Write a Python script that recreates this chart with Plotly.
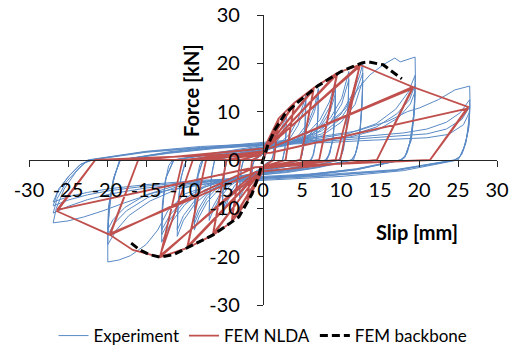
import plotly.graph_objects as go

# ---------------------------------------------------------------------------
# Experimental hysteresis, grouped by imposed slip amplitude.
# Each cycle is a list of (slip [mm], force [kN]) points.
# ---------------------------------------------------------------------------
exp_amp_1_5 = [
    [(0, 0), (0.5, 1.5), (1.0, 3.5), (1.5, 6.0), (1.45, 3.5), (1.3, 1.0), (1.1, 0), (0.5, -1.2), (0, -2.0),
     (-0.6, -3.2), (-1.1, -4.2), (-1.5, -5.0), (-1.45, -3.0), (-1.3, -1.0), (-1.1, 0)],
    [(-1.1, 0), (-0.5, 0.6), (0, 1.2), (0.6, 2.3), (1.1, 3.8), (1.5, 5.3), (1.45, 3.0), (1.3, 0.8), (1.1, 0),
     (0.5, -0.6), (0, -1.3), (-0.6, -2.3), (-1.1, -3.5), (-1.5, -4.5), (-1.45, -2.7), (-1.3, -0.8), (-1.1, 0)],
]
exp_amp_3 = [
    [(-1.1, 0), (0, 1.2), (1, 3), (2, 5.5), (2.6, 7.5), (3, 9), (2.95, 6), (2.8, 2.5), (2.5, 0), (1.5, -0.8),
     (0, -1.6), (-1, -2.8), (-2, -4.8), (-2.6, -6.5), (-3, -8), (-2.95, -5), (-2.8, -2), (-2.5, 0)],
    [(-2.5, 0), (-1, 0.8), (0, 1.4), (1, 2.5), (2, 4.3), (2.6, 6.2), (3, 8.2), (2.95, 5.2), (2.8, 2), (2.5, 0),
     (1.2, -0.9), (0, -1.5), (-1, -2.4), (-2, -4.2), (-2.6, -5.8), (-3, -7.3), (-2.95, -4.5), (-2.75, -1.5), (-2.5, 0)],
]
exp_amp_5_5 = [
    [(-2.5, 0), (-1, 0.9), (0, 1.6), (2, 3.2), (3.5, 5.5), (4.5, 8.5), (5.1, 11.2), (5.5, 13.5), (5.45, 9),
     (5.3, 4), (5, 1), (4.7, 0), (3, -1), (1, -1.8), (0, -2.2), (-2, -3.8), (-3.5, -5.8), (-4.5, -8.3),
     (-5.2, -11.5), (-5.15, -7), (-4.95, -2.5), (-4.6, 0)],
    [(-4.6, 0), (-2.5, 0.8), (0, 1.8), (2, 2.9), (3.5, 4.6), (4.5, 7.2), (5.1, 9.8), (5.5, 12.3), (5.45, 8),
     (5.3, 3.5), (4.9, 0.5), (4.6, 0), (2.5, -1.1), (0, -2.0), (-2, -3.2), (-3.5, -5), (-4.5, -7.5),
     (-5.2, -10.5), (-5.15, -6.3), (-4.9, -2), (-4.6, 0)],
]
exp_amp_7 = [
    [(-4.6, 0), (-2, 1), (0, 1.9), (2.5, 3.2), (4.5, 5), (5.8, 7.8), (6.6, 11), (7.1, 14.8), (7.05, 10),
     (6.85, 4.5), (6.5, 1.2), (6.2, 0), (3.5, -1.2), (0, -2.3), (-2.5, -3.5), (-4.3, -5.4), (-5.6, -8),
     (-6.4, -10.5), (-6.9, -12.5), (-6.85, -8), (-6.6, -3), (-6.2, 0)],
    [(-6.2, 0), (-3, 1), (0, 2.1), (2.5, 3), (4.5, 4.5), (5.8, 7), (6.6, 10), (7.1, 13.5), (7.05, 9),
     (6.8, 4), (6.4, 1), (6.1, 0), (3, -1.3), (0, -2.3), (-2.5, -3.2), (-4.3, -4.9), (-5.6, -7.3),
     (-6.4, -9.6), (-6.9, -11.5), (-6.85, -7.2), (-6.5, -2.5), (-6.2, 0)],
]
exp_amp_9 = [
    [(-6.2, 0), (-3, 1), (0, 2), (3, 3.3), (5.5, 5.2), (7.3, 8.3), (8.5, 12), (9.3, 16.2), (9.25, 11), (9, 5),
     (8.6, 1.5), (8.2, 0), (5, -1.3), (2, -2.2), (0, -2.6), (-3, -3.8), (-5.5, -5.8), (-7.2, -8.8),
     (-8.2, -11.8), (-8.8, -14.5), (-8.75, -9.5), (-8.5, -4), (-8.1, -1), (-7.8, 0)],
    [(-7.8, 0), (-4, 1.1), (0, 2.3), (3, 3.2), (5.5, 4.6), (7.3, 7.3), (8.5, 10.8), (9.3, 14.8), (9.25, 10),
     (9, 4.5), (8.5, 1.2), (8.1, 0), (4.5, -1.5), (0, -2.6), (-3, -3.5), (-5.5, -5.2), (-7.2, -8),
     (-8.2, -10.8), (-8.8, -13.2), (-8.75, -8.5), (-8.4, -3.5), (-7.7, 0)],
    [(-7.7, 0), (-4, 1), (0, 2.2), (3, 3), (5.5, 4.3), (7.3, 6.8), (8.6, 10), (9.3, 13.8), (9.2, 9.2),
     (8.95, 4), (8.4, 1), (8, 0), (4.5, -1.4), (0, -2.5), (-3, -3.3), (-5.5, -4.9), (-7.3, -7.5),
     (-8.3, -10.2), (-8.8, -12.4), (-8.7, -8), (-8.3, -3.2), (-7.7, 0)],
]
exp_amp_11 = [
    [(-7.7, 0), (-4, 1.1), (0, 2.4), (3.5, 3.6), (6.5, 5.6), (8.7, 8.8), (10.1, 12.8), (11, 18.3),
     (10.95, 12.5), (10.7, 6), (10.3, 2), (9.8, 0), (6, -1.5), (0, -2.8), (-3.5, -4), (-6.5, -6), (-8.7, -9),
     (-10.2, -12.5), (-11, -15.8), (-10.9, -10), (-10.6, -4.5), (-10.1, -1), (-9.7, 0)],
    [(-9.7, 0), (-5, 1.2), (0, 2.6), (3.5, 3.4), (6.5, 5.1), (8.7, 8), (10.1, 11.6), (11, 16.6), (10.9, 11),
     (10.6, 5), (10.1, 1.2), (9.7, 0), (5, -1.7), (0, -2.8), (-3.5, -3.8), (-6.5, -5.5), (-8.7, -8.3),
     (-10.2, -11.5), (-11, -14.5), (-10.9, -9), (-10.5, -3.5), (-9.8, 0)],
]
exp_amp_13 = [
    [(-9.8, 0), (-5, 1.2), (0, 2.5), (4, 3.8), (7.5, 6), (10, 9.5), (11.6, 14), (12.4, 17.5), (12.8, 20),
     (12.75, 14), (12.5, 7), (12.1, 2.5), (11.6, 0), (7, -1.6), (3, -2.6), (0, -3), (-4, -4.2), (-7.5, -6.2),
     (-10, -9.2), (-11.8, -13), (-13, -17), (-12.9, -11), (-12.6, -5), (-12.1, -1.2), (-11.6, 0)],
    [(-11.6, 0), (-6, 1.4), (0, 2.8), (4, 3.6), (7.5, 5.4), (10, 8.6), (11.6, 12.6), (12.8, 18), (12.7, 12),
     (12.4, 5.5), (11.9, 1.5), (11.4, 0), (6, -1.8), (0, -3), (-4, -3.9), (-7.5, -5.6), (-10, -8.5),
     (-11.8, -12), (-13, -15.5), (-12.9, -10), (-12.5, -4), (-11.5, 0)],
    [(-11.5, 0), (-6, 1.3), (0, 2.6), (4, 3.4), (7.5, 5), (10, 7.8), (11.8, 11.5), (12.8, 16.5), (12.7, 11),
     (12.35, 4.5), (11.8, 1), (11.3, 0), (6, -1.7), (0, -2.8), (-4, -3.7), (-7.5, -5.3), (-10, -8),
     (-11.9, -11.3), (-13, -14.5), (-12.9, -9), (-12.4, -3.5), (-11.4, 0)],
]
exp_amp_20 = [
    [(-11.4, 0), (-6, 1.5), (0, 3), (4, 4.5), (8, 7), (10.5, 10.5), (12.3, 15), (13.7, 17.6), (15.5, 19.8),
     (16.9, 21.1), (17.6, 20.3), (18.6, 20.8), (19.5, 21.3), (19.55, 16), (19.3, 9), (18.8, 3.5), (18.2, 0.5),
     (17.6, 0), (12, -1.8), (6, -3), (0, -3.6), (-6, -4.8), (-10, -7), (-12.2, -10.5), (-13.5, -14.5),
     (-15, -17.5), (-17, -19.8), (-18.5, -20.7), (-19.9, -21.1), (-19.9, -15), (-19.6, -8), (-19, -3),
     (-18.3, 0)],
    [(-18.3, 0), (-12, 1.6), (-6, 2.6), (0, 3.4), (6, 4.2), (11, 5.5), (14.5, 7.5), (17, 10.5), (18.6, 14),
     (19.5, 17.5), (19.45, 12), (19.1, 5.5), (18.5, 1.5), (17.8, 0), (12, -2), (6, -3.2), (0, -3.8),
     (-6, -4.6), (-11, -6), (-14.5, -8.5), (-17.2, -11.5), (-18.8, -14.5), (-19.9, -17.5), (-19.8, -12),
     (-19.3, -5), (-18.4, 0)],
    [(-18.4, 0), (-12, 1.5), (-6, 2.5), (0, 3.2), (6, 3.9), (11, 5), (14.5, 6.8), (17.2, 9.6), (18.8, 12.5),
     (19.5, 15.5), (19.4, 10.5), (19, 4.5), (18.3, 1), (17.7, 0), (12, -2), (6, -3), (0, -3.6), (-6, -4.3),
     (-11, -5.5), (-14.8, -7.8), (-17.5, -10.5), (-19, -13), (-19.9, -15.5), (-19.8, -10.5), (-19.2, -4),
     (-18.3, 0)],
    [(-18.3, 0), (-12, 1.4), (-6, 2.4), (0, 3), (6, 3.7), (11, 4.7), (14.8, 6.3), (17.4, 8.8), (18.9, 11.6),
     (19.5, 14.2), (19.4, 9.5), (19, 4), (18.2, 0.8), (17.6, 0), (12, -1.9), (6, -2.9), (0, -3.4), (-6, -4.1),
     (-11, -5.2), (-15, -7.2), (-17.7, -9.8), (-19.2, -12.3), (-19.9, -14.3), (-19.8, -9.5), (-19.1, -3.5),
     (-18.3, 0)],
]
exp_amp_26 = [
    [(-18.3, 0), (-12, 1.7), (-6, 2.8), (0, 3.6), (6, 4.5), (12, 6), (16, 8), (18.5, 10), (20.1, 10.8),
     (22.5, 12.5), (24.6, 14.5), (26.5, 15.3), (26.55, 11), (26.3, 6), (25.7, 2), (25, 0), (18, -2.2),
     (10, -3.4), (0, -4.2), (-8, -5), (-14, -6.8), (-18, -9), (-20.5, -10.5), (-23, -11.8), (-25, -12.6),
     (-26.9, -13), (-26.5, -10), (-25.5, -6), (-24, -2.5), (-22.5, 0)],
    [(-22.5, 0), (-15, 1.8), (-8, 2.8), (0, 3.4), (8, 4.2), (14, 5.0), (18, 5.6), (21, 6.4), (23.5, 7.8),
     (25.3, 9.8), (26.5, 12.5), (26.45, 9), (26.1, 4.5), (25.5, 1.2), (24.8, 0), (17, -2.2), (8, -3.3),
     (0, -4), (-8, -4.6), (-15, -5.8), (-19.5, -7), (-22.5, -8.2), (-25, -9.6), (-26.9, -11), (-26.4, -8),
     (-25.2, -4.5), (-23.5, -1.5), (-22.3, 0)],
    [(-22.3, 0), (-15, 1.7), (-8, 2.6), (0, 3.2), (8, 3.9), (14, 4.6), (18, 5.0), (21, 5.4), (23.5, 6.4),
     (25.5, 8.4), (26.5, 11), (26.4, 7.5), (26, 3.5), (25.3, 0.8), (24.6, 0), (17, -2.1), (8, -3.2), (0, -3.8),
     (-8, -4.4), (-15, -5.4), (-19.5, -6.3), (-22.5, -7.2), (-25, -8.3), (-26.9, -9.5), (-26.3, -6.5),
     (-25, -3.5), (-23.5, -1), (-22, 0)],
    [(-22, 0), (-15, 1.6), (-8, 2.5), (0, 3), (8, 3.6), (14, 4.1), (18, 4.4), (21, 4.6), (23.8, 5.3),
     (25.7, 7.3), (26.5, 10), (26.4, 6.8), (25.9, 3), (25.2, 0.6), (24.5, 0), (17, -2), (8, -3), (0, -3.6),
     (-8, -4.2), (-15, -5.1), (-19.5, -5.9), (-22.5, -6.7), (-25, -7.6), (-26.9, -8.7), (-26.2, -6),
     (-24.8, -3.2), (-23.3, -0.8), (-21.8, 0)],
]

# ---------------------------------------------------------------------------
# FEM non-linear dynamic analysis (multi-linear pinched loops), per amplitude
# ---------------------------------------------------------------------------
fem_amp_2 = [
    [(0, 0), (2, 8.6), (1.4, 0), (0.3, -1.0), (-2, -8.5), (-1.4, 0), (-0.3, 1.0)],
    [(-0.3, 1.0), (2, 8.3), (1.4, 0), (0.3, -1.0), (-2, -8.2), (-1.4, 0), (-0.3, 1.0)],
]
fem_amp_4 = [
    [(-0.3, 1.0), (2, 8.6), (4, 11.8), (2.9, 0), (0.3, -1.2), (-2, -8.5), (-4, -12.8), (-2.9, 0), (-0.3, 1.2)],
    [(-0.3, 1.2), (4, 11.5), (2.9, 0), (0.3, -1.2), (-4, -12.5), (-2.9, 0), (-0.3, 1.2)],
]
fem_amp_6_5 = [
    [(-0.3, 1.2), (4, 11.8), (6.5, 14.9), (4.8, 0), (0.2, -1.4), (-4, -12.8), (-6.4, -15.5), (-4.7, 0),
     (-0.2, 1.4)],
    [(-0.2, 1.4), (6.5, 14.6), (4.8, 0), (0.2, -1.4), (-6.4, -15.2), (-4.7, 0), (-0.2, 1.4)],
]
fem_amp_9_5 = [
    [(-0.2, 1.4), (6.5, 14.9), (9.5, 18), (7.2, 0), (0, -1.6), (-6.4, -15.5), (-9.7, -18.2), (-7.3, 0),
     (0, 1.6)],
    [(0, 1.6), (9.5, 17.7), (7.2, 0), (0, -1.6), (-9.7, -17.9), (-7.3, 0), (0, 1.6)],
]
fem_amp_13 = [
    [(0, 1.6), (9.5, 18), (12.4, 19.7), (9.9, 0), (0, -1.8), (-9.7, -18.2), (-13.2, -20.1), (-10.3, 0),
     (0, 1.8)],
    [(0, 1.8), (12.4, 19.4), (9.3, 0), (0, -1.8), (-13.2, -19.8), (-9.0, 0), (0, 1.8)],
]
fem_amp_20 = [
    [(0, 1.8), (12.4, 19.7), (19.2, 15.1), (14.6, 0), (-1, -2.5), (-13.2, -20.1), (-16.7, -18.6),
     (-19.6, -15.5), (-16, 0), (1, 2.5)],
    [(1, 2.5), (19.2, 14.8), (14.6, 0), (-1, -2.5), (-19.6, -15.2), (-16, 0), (1, 2.5)],
]
fem_amp_26 = [
    [(1, 2.5), (19.2, 15.1), (26.3, 11), (21.4, 0), (-1, -1.5), (-19.6, -15.5), (-26.4, -10.6), (-21.5, 0),
     (1, 1.5)],
    [(1, 1.5), (26.3, 10.7), (21.4, 0), (-1, -1.5), (-26.4, -10.3), (-21.5, 0), (0, 0)],
]

# FEM monotonic backbone
backbone_slip = [-16.9, -15.8, -14.5, -13.2, -11.5, -9.7, -6.4, -3.1, -1.4, -0.5, 0,
                 0.6, 1.5, 2.8, 4.5, 7.0, 10.0, 12.7, 13.5, 15.4, 17.1, 17.8]
backbone_force = [-17.2, -18.6, -19.6, -20.1, -19.6, -18.2, -15.5, -11.8, -7.0, -3.0, 0,
                  3.0, 6.2, 9.5, 12.0, 15.3, 18.3, 20.1, 20.3, 19.7, 17.6, 16.8]

x_ticks = [-30, -25, -20, -15, -10, -5, 0, 5, 10, 15, 20, 25, 30]
y_ticks = [-30, -20, -10, 0, 10, 20, 30]

exp_groups = [exp_amp_1_5, exp_amp_3, exp_amp_5_5, exp_amp_7, exp_amp_9, exp_amp_11, exp_amp_13,
              exp_amp_20, exp_amp_26]
fem_groups = [fem_amp_2, fem_amp_4, fem_amp_6_5, fem_amp_9_5, fem_amp_13, fem_amp_20, fem_amp_26]


def chain(groups):
    """Join consecutive cycles into one continuous load path."""
    xs, ys = [], []
    for group in groups:
        for cycle in group:
            for x, y in cycle:
                xs.append(x)
                ys.append(y)
    return xs, ys


exp_x, exp_y = chain(exp_groups)
fem_x, fem_y = chain(fem_groups)

FONT = "Lato"
AXIS_COLOR = "#262626"

fig = go.Figure()
fig.add_trace(go.Scatter(x=exp_x, y=exp_y, mode="lines", name="Experiment",
                         line=dict(color="#5A8AC6", width=1)))
fig.add_trace(go.Scatter(x=fem_x, y=fem_y, mode="lines", name="FEM NLDA",
                         line=dict(color="#C0504D", width=1.8)))
fig.add_trace(go.Scatter(x=backbone_slip, y=backbone_force, mode="lines", name="FEM backbone",
                         line=dict(color="black", width=3, dash="8px,4px")))

fig.update_layout(
    width=513, height=347,
    margin=dict(l=29, r=16, t=15, b=42, autoexpand=False),
    paper_bgcolor="white", plot_bgcolor="white",
    font=dict(family=FONT, size=20, color="black"),
    showlegend=True,
    legend=dict(orientation="h", x=0.5, xanchor="center", y=-0.107, yanchor="middle",
                font=dict(size=17), itemwidth=30, bgcolor="rgba(0,0,0,0)"),
    xaxis=dict(range=[-30, 30], tickvals=x_ticks, ticktext=[str(v) for v in x_ticks],
               anchor="free", position=0.5, showline=True, linecolor=AXIS_COLOR, linewidth=1.3,
               ticks="outside", ticklen=6, tickwidth=1.3, tickcolor=AXIS_COLOR,
               showgrid=False, zeroline=False, ticklabelstandoff=6),
    yaxis=dict(range=[-30, 30], tickvals=y_ticks, ticktext=[str(v) for v in y_ticks],
               anchor="free", position=0.5, showline=True, linecolor=AXIS_COLOR, linewidth=1.3,
               ticks="outside", ticklen=6, tickwidth=1.3, tickcolor=AXIS_COLOR,
               showgrid=False, zeroline=False, ticklabelstandoff=13),
    annotations=[
        dict(text="<b>Force [kN]</b>", xref="paper", yref="paper", x=0.346, y=0.741,
             showarrow=False, textangle=-90, font=dict(size=20, family=FONT),
             xanchor="center", yanchor="middle"),
        dict(text="<b>Slip [mm]</b>", xref="paper", yref="paper", x=0.829, y=0.252,
             showarrow=False, font=dict(size=20, family=FONT),
             xanchor="center", yanchor="middle"),
    ],
)

fig.write_html("out.html")
